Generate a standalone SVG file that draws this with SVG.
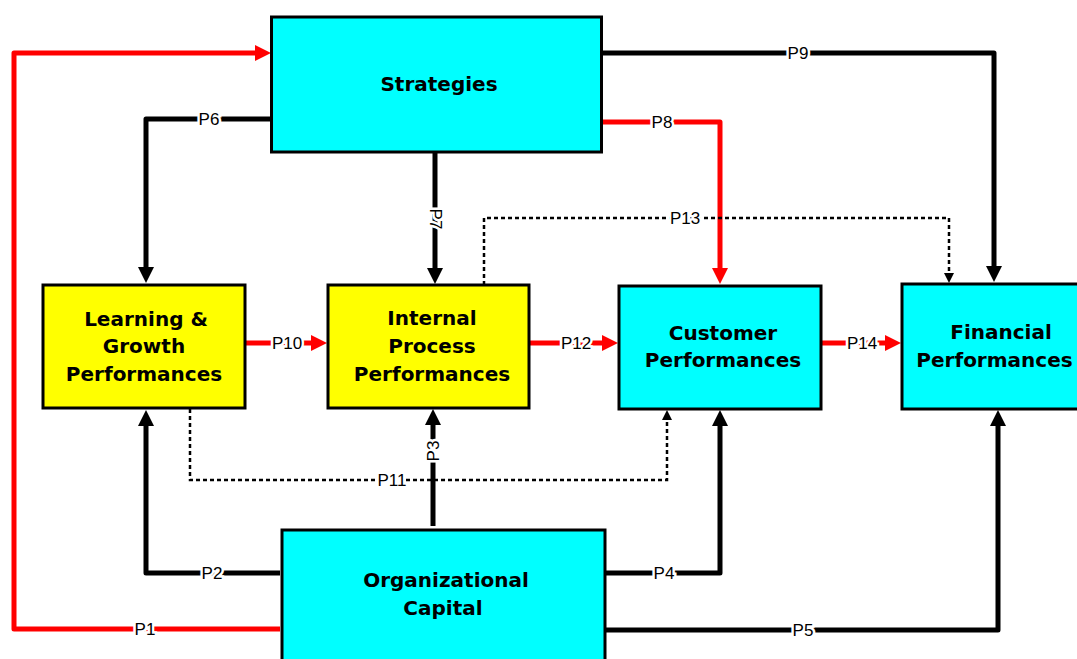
<svg xmlns="http://www.w3.org/2000/svg" width="1077" height="659" viewBox="0 0 1077 659">
<style>
.box{stroke:#000;stroke-width:3}
.cy{fill:#00FFFF}
.ye{fill:#FFFF00}
.t{font-family:"DejaVu Sans",Verdana,sans-serif;font-weight:bold;font-size:20px;fill:#000;text-anchor:middle}
.ln{fill:none;stroke-width:5;stroke-linejoin:round}
.bk{stroke:#000}
.rd{stroke:#FF0000}
.dt{fill:none;stroke:#000;stroke-width:2.5;stroke-dasharray:4 3}
.lb{font-family:"Liberation Sans",Arial,sans-serif;font-size:17px;fill:#000;text-anchor:middle;dominant-baseline:central;stroke:#fff;stroke-width:5;paint-order:stroke}
</style>
<defs>
<marker id="ab" markerUnits="userSpaceOnUse" markerWidth="16" markerHeight="16" refX="2" refY="8" orient="auto"><path d="M0,0 L16,8 L0,16 z" fill="#000"/></marker>
<marker id="ar" markerUnits="userSpaceOnUse" markerWidth="16" markerHeight="16" refX="2" refY="8" orient="auto"><path d="M0,0 L16,8 L0,16 z" fill="#FF0000"/></marker>
<marker id="ad" markerUnits="userSpaceOnUse" markerWidth="10" markerHeight="10" refX="1" refY="5" orient="auto"><path d="M0,0 L10,5 L0,10 z" fill="#000"/></marker>
</defs>
<rect width="1077" height="659" fill="#fff"/>
<g id="connectors">
<path class="ln rd" d="M280,629 L14,629 L14,53 L257,53" marker-end="url(#ar)"/>
<path class="ln bk" d="M280,573 L146,573 L146,424" marker-end="url(#ab)"/>
<path class="ln bk" d="M271,119 L146,119 L146,269" marker-end="url(#ab)"/>
<path class="ln bk" d="M435,152 L435,270" marker-end="url(#ab)"/>
<path class="ln bk" d="M433,526 L433,423" marker-end="url(#ab)"/>
<path class="ln rd" d="M601,122 L720,122 L720,270" marker-end="url(#ar)"/>
<path class="ln bk" d="M601,53 L994,53 L994,268" marker-end="url(#ab)"/>
<path class="ln bk" d="M605,573 L720,573 L720,424" marker-end="url(#ab)"/>
<path class="ln bk" d="M605,630 L998,630 L998,424" marker-end="url(#ab)"/>
<path class="ln rd" d="M245,343 L313,343" marker-end="url(#ar)"/>
<path class="ln rd" d="M529,343 L604,343" marker-end="url(#ar)"/>
<path class="ln rd" d="M821,343 L887,343" marker-end="url(#ar)"/>
<path class="dt" d="M190,409 L190,480 L667,480 L667,419" marker-end="url(#ad)"/>
<path class="dt" d="M484,285 L484,218 L949,218 L949,274" marker-end="url(#ad)"/>
<text class="lb" x="145" y="629">P1</text>
<text class="lb" x="212" y="573">P2</text>
<text class="lb" x="209" y="119">P6</text>
<text class="lb" transform="translate(435,219) rotate(90)">P7</text>
<text class="lb" transform="translate(433,451) rotate(-90)">P3</text>
<text class="lb" x="662" y="122">P8</text>
<text class="lb" x="798" y="53">P9</text>
<text class="lb" x="664" y="573">P4</text>
<text class="lb" x="803" y="630">P5</text>
<text class="lb" x="287" y="343">P10</text>
<text class="lb" x="576" y="343">P12</text>
<text class="lb" x="862" y="343">P14</text>
<text class="lb" x="392" y="480">P11</text>
<text class="lb" x="685" y="218">P13</text>
</g>
<g id="strategies">
<rect class="box cy" x="271.5" y="17" width="330" height="135"/>
<text class="t" x="439" y="91">Strategies</text>
</g>
<g id="learning">
<rect class="box ye" x="43" y="285" width="202" height="123"/>
<text class="t" x="146" y="326">Learning &amp;</text>
<text class="t" x="144" y="353">Growth</text>
<text class="t" x="144" y="381">Performances</text>
</g>
<g id="internal">
<rect class="box ye" x="328" y="285" width="201" height="123"/>
<text class="t" x="432" y="325">Internal</text>
<text class="t" x="432" y="353">Process</text>
<text class="t" x="432" y="381">Performances</text>
</g>
<g id="customer">
<rect class="box cy" x="619" y="286" width="202" height="123"/>
<text class="t" x="723" y="340">Customer</text>
<text class="t" x="723" y="367">Performances</text>
</g>
<g id="financial">
<rect class="box cy" x="902" y="284" width="190" height="125"/>
<text class="t" x="1001" y="339">Financial</text>
<text class="t" x="994.5" y="367">Performances</text>
</g>
<g id="organizational">
<rect class="box cy" x="282" y="530" width="323" height="140"/>
<text class="t" x="446" y="587">Organizational</text>
<text class="t" x="443" y="615">Capital</text>
</g>
</svg>
